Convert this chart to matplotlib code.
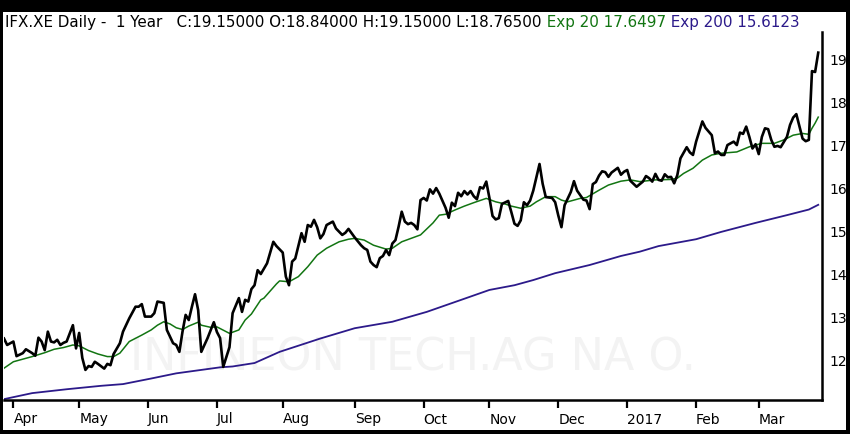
"""
IFX.XE daily close, one year, with 20 and 200 day exponential averages.
"""

import matplotlib
matplotlib.use("Agg")
import matplotlib.pyplot as plt
from matplotlib.patches import Rectangle
import pandas as pd

# trading sessions shown on the chart (x = session number)
SESSIONS = pd.bdate_range("2016-03-29", "2017-03-28")

close_day = [
    0, 1, 3, 4, 6, 7, 9, 10, 11, 12, 13, 14, 15, 16, 17, 18, 19, 20, 21, 22,
    23, 24, 25, 26, 27, 28, 29, 30, 32, 33, 34, 35, 37, 38, 40, 42, 43, 44, 45, 47,
    48, 49, 51, 52, 54, 55, 56, 57, 58, 59, 60, 61, 62, 63, 65, 67, 68, 69, 70, 72,
    73, 75, 76, 77, 78, 79, 80, 81, 82, 84, 86, 87, 89, 90, 91, 92, 93, 95, 96, 97,
    98, 99, 100, 101, 102, 103, 105, 106, 108, 109, 110, 112, 114, 115, 116, 117, 118, 119, 120, 121,
    122, 123, 124, 125, 126, 127, 128, 129, 130, 131, 132, 133, 134, 135, 136, 137, 138, 139, 141, 142,
    143, 144, 145, 146, 147, 148, 149, 150, 151, 152, 153, 154, 155, 156, 157, 158, 159, 161, 162, 163,
    164, 165, 166, 167, 168, 169, 170, 171, 172, 173, 175, 176, 177, 178, 179, 181, 182, 183, 185, 186,
    187, 188, 189, 190, 191, 192, 193, 194, 196, 197, 198, 199, 200, 202, 204, 205, 206, 207, 208, 209,
    210, 211, 212, 213, 214, 215, 216, 218, 219, 220, 221, 223, 224, 226, 227, 228, 229, 230, 231, 233,
    234, 235, 236, 237, 238, 239, 240, 241, 242, 243, 244, 245, 246, 247, 248, 250, 251, 252, 253, 254,
    255, 256, 257, 258, 259, 260,
]
close_px = [
    12.50, 12.35, 12.43, 12.09, 12.16, 12.25, 12.16, 12.10, 12.52, 12.43, 12.23, 12.66, 12.43, 12.41, 12.47, 12.35, 12.40, 12.43, 12.62, 12.81,
    12.27, 12.63, 12.05, 11.77, 11.86, 11.84, 11.96, 11.91, 11.80, 11.91, 11.88, 12.14, 12.39, 12.66, 12.97, 13.24, 13.24, 13.30, 13.01, 13.01,
    13.09, 13.36, 13.33, 12.70, 12.39, 12.35, 12.19, 12.66, 13.05, 12.93, 13.24, 13.53, 13.16, 12.19, 12.51, 12.88, 12.65, 12.51, 11.84, 12.30,
    13.09, 13.44, 13.12, 13.40, 13.36, 13.65, 13.74, 14.09, 14.00, 14.25, 14.75, 14.65, 14.50, 13.94, 13.74, 14.29, 14.36, 14.95, 14.75, 15.14,
    15.10, 15.26, 15.09, 14.83, 14.93, 15.14, 15.22, 15.06, 14.91, 14.96, 15.05, 14.85, 14.67, 14.60, 14.56, 14.29, 14.21, 14.16, 14.37, 14.42,
    14.56, 14.44, 14.71, 14.79, 15.10, 15.45, 15.22, 15.16, 15.19, 15.14, 15.04, 15.72, 15.77, 15.71, 15.97, 15.87, 16.00, 15.87, 15.54, 15.31,
    15.66, 15.58, 15.89, 15.81, 15.93, 15.85, 15.93, 15.81, 15.74, 16.02, 15.99, 16.15, 15.77, 15.35, 15.27, 15.30, 15.63, 15.70, 15.44, 15.17,
    15.12, 15.25, 15.67, 15.60, 15.71, 15.94, 16.25, 16.56, 16.10, 15.79, 15.77, 15.67, 15.36, 15.09, 15.60, 15.91, 16.16, 15.94, 15.73, 15.71,
    15.51, 16.09, 16.14, 16.29, 16.39, 16.37, 16.26, 16.36, 16.47, 16.31, 16.38, 16.42, 16.17, 16.03, 16.15, 16.28, 16.23, 16.15, 16.33, 16.19,
    16.17, 16.32, 16.25, 16.26, 16.11, 16.30, 16.69, 16.95, 16.83, 16.77, 17.08, 17.55, 17.40, 17.23, 16.81, 16.85, 16.77, 16.77, 17.00, 17.08,
    17.00, 17.29, 17.26, 17.43, 17.19, 16.92, 17.02, 16.79, 17.19, 17.39, 17.37, 17.12, 16.96, 16.98, 16.95, 17.19, 17.47, 17.64, 17.72, 17.43,
    17.15, 17.09, 17.12, 18.72, 18.70, 19.15,
]

ema20_day = [
    0, 3, 6, 9, 13, 16, 19, 22, 24, 27, 30, 33, 35, 37, 40, 44, 47, 49, 51, 53,
    55, 57, 59, 62, 63, 66, 68, 72, 75, 77, 79, 82, 83, 87, 88, 91, 94, 97, 100, 103,
    107, 110, 112, 115, 118, 122, 124, 127, 130, 133, 135, 137, 139, 141, 144, 147, 150, 154, 157, 160,
    162, 165, 168, 170, 173, 176, 178, 180, 184, 186, 190, 193, 197, 200, 203, 208, 213, 215, 217, 220,
    223, 226, 229, 234, 238, 242, 246, 249, 252, 255, 257, 258, 259, 260,
]
ema20_px = [
    11.81, 11.96, 12.02, 12.08, 12.17, 12.25, 12.29, 12.35, 12.33, 12.22, 12.14, 12.08, 12.08, 12.16, 12.43, 12.58, 12.70, 12.81, 12.89, 12.84,
    12.75, 12.71, 12.79, 12.88, 12.81, 12.76, 12.77, 12.62, 12.70, 12.93, 13.07, 13.40, 13.44, 13.77, 13.84, 13.82, 13.94, 14.17, 14.44, 14.60,
    14.75, 14.81, 14.83, 14.79, 14.67, 14.58, 14.60, 14.75, 14.83, 14.91, 15.05, 15.19, 15.37, 15.39, 15.49, 15.58, 15.66, 15.76, 15.68, 15.63,
    15.58, 15.53, 15.58, 15.68, 15.80, 15.80, 15.72, 15.68, 15.76, 15.78, 15.95, 16.07, 16.16, 16.19, 16.15, 16.19, 16.20, 16.23, 16.34, 16.46,
    16.65, 16.77, 16.81, 16.84, 16.96, 17.04, 17.04, 17.12, 17.23, 17.27, 17.25, 17.39, 17.51, 17.65,
]

ema200_day = [
    0, 9, 20, 31, 38, 47, 55, 63, 69, 73, 80, 88, 101, 112, 124, 135, 146, 155, 163, 169,
    176, 187, 197, 203, 209, 221, 229, 240, 250, 257, 260,
]
ema200_px = [
    11.09, 11.23, 11.32, 11.40, 11.44, 11.57, 11.69, 11.77, 11.83, 11.85, 11.93, 12.19, 12.50, 12.74, 12.89, 13.12, 13.40, 13.63, 13.74, 13.86,
    14.02, 14.21, 14.42, 14.52, 14.65, 14.81, 14.98, 15.19, 15.37, 15.50, 15.61,
]

price_ticks = [12, 13, 14, 15, 16, 17, 18, 19]

title_main = "IFX.XE Daily -  1 Year   C:19.15000 O:18.84000 H:19.15000 L:18.76500"
title_ema20 = " Exp 20 17.6497"
title_ema200 = " Exp 200 15.6123"
watermark = "INFINEON TECH.AG NA O."

W, H = 850, 434
GREEN = "#127512"
PURPLE = "#2c1a8a"


def box(x0, y0, x1, y1):
    """Pixel box (top-left origin) to figure fraction rect."""
    return [x0 / W, 1 - y1 / H, (x1 - x0) / W, (y1 - y0) / H]


def month_ticks(sessions):
    """Session numbers of the first trading day of each month, with labels."""
    ticks, labels = [], []
    for i in range(1, len(sessions)):
        if sessions[i].month != sessions[i - 1].month:
            d = sessions[i]
            ticks.append(i)
            labels.append(str(d.year) if d.month == 1 else d.strftime("%b"))
    return ticks, labels


fig = plt.figure(figsize=(W / 100, H / 100), dpi=100)
fig.patch.set_facecolor("white")

# black frame round the picture
for rect in [box(0, 0, W, 12), box(0, 0, 3, H), box(846, 0, W, H), box(0, 430, W, H)]:
    fig.patches.append(
        Rectangle((rect[0], rect[1]), rect[2], rect[3], transform=fig.transFigure,
                  facecolor="black", edgecolor="none", zorder=10)
    )

ax = fig.add_axes(box(4, 32, 822, 400))
ax.set_facecolor("none")

# faint watermark behind the lines
ax.text(413 / W, 1 - 358 / H, watermark, transform=fig.transFigure, fontsize=32,
        color="#f3f3f3", ha="center", va="center", zorder=1)

ax.plot(ema200_day, ema200_px, color=PURPLE, lw=1.3, zorder=2)
ax.plot(ema20_day, ema20_px, color=GREEN, lw=1.1, zorder=3)
ax.plot(close_day, close_px, color="black", lw=1.9, zorder=4)

ax.set_xlim(0, 261.2)
ax.set_ylim(11.07, 19.63)

ticks, labels = month_ticks(SESSIONS)
ax.set_xticks(ticks)
ax.set_xticklabels(labels, ha="left")
ax.tick_params(axis="x", length=6, width=1.6, pad=3, labelsize=10, color="black")

ax.yaxis.tick_right()
ax.set_yticks(price_ticks)
ax.set_yticklabels([str(t) for t in price_ticks])
ax.tick_params(axis="y", length=0, pad=5, labelsize=10)

for side in ("top", "left"):
    ax.spines[side].set_visible(False)
for side in ("right", "bottom"):
    ax.spines[side].set_linewidth(1.8)

t1 = fig.text(5 / W, 1 - 30 / H, title_main, fontsize=10.9, va="bottom", ha="left")
t2 = ax.annotate(title_ema20, xy=(1, 0), xycoords=t1, va="bottom", ha="left",
                 fontsize=10.9, color=GREEN, annotation_clip=False)
ax.annotate(title_ema200, xy=(1, 0), xycoords=t2, va="bottom", ha="left",
            fontsize=10.9, color=PURPLE, annotation_clip=False)

fig.savefig("out.png", dpi=100)
